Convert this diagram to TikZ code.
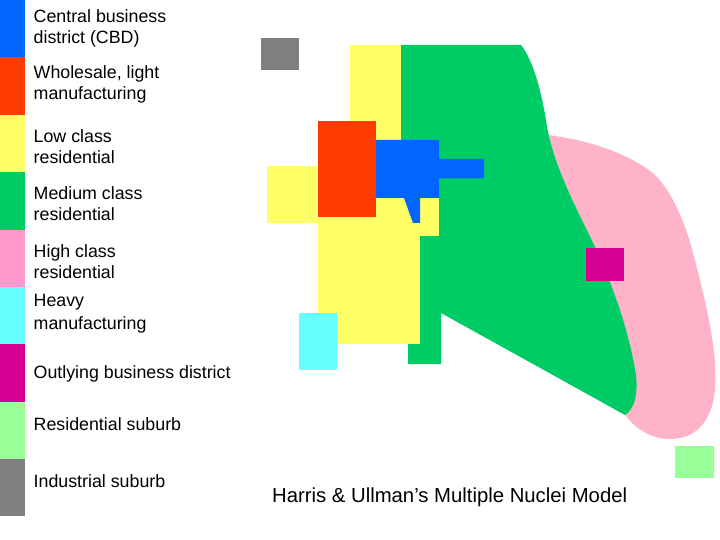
\documentclass[tikz,border=0pt]{standalone}
\usepackage{fontspec}
\setmainfont{Liberation Sans}
\definecolor{cblue}{HTML}{0066FF}
\definecolor{cred}{HTML}{FF3C00}
\definecolor{cyel}{HTML}{FFFF66}
\definecolor{cgrn}{HTML}{00CC66}
\definecolor{cpnk}{HTML}{FF99CC}
\definecolor{cpnkm}{HTML}{FFB3C8}
\definecolor{ccyn}{HTML}{66FFFF}
\definecolor{cmag}{HTML}{D60093}
\definecolor{clgr}{HTML}{99FF99}
\definecolor{cgry}{HTML}{808080}
\tikzset{legtext/.style={anchor=west,align=left,font=\fontsize{17.8pt}{21pt}\selectfont,text=black,inner sep=0pt}}
\begin{document}
\begin{tikzpicture}[x=1pt,y=-1pt]
\useasboundingbox (0,0) rectangle (720,540);
\fill[white] (0,0) rectangle (720,540);
% legend
\fill[cblue] (0,0) rectangle (25,57.5);
\fill[cred] (0,57.5) rectangle (25,115);
\fill[cyel] (0,115) rectangle (25,172.5);
\fill[cgrn] (0,172.5) rectangle (25,230);
\fill[cpnk] (0,230) rectangle (25,287);
\fill[ccyn] (0,287) rectangle (25,344);
\fill[cmag] (0,344) rectangle (25,401.5);
\fill[clgr] (0,401.5) rectangle (25,459);
\fill[cgry] (0,459) rectangle (25,516);
\node[legtext] (l1) at (33.5,28.5) {Central business\\district (CBD)};
\node[legtext] (l2) at (33.5,84.5) {Wholesale, light\\manufacturing};
\node[legtext] (l3) at (33.5,147) {Low class\\residential};
\node[legtext] (l4) at (33.5,204) {Medium class\\residential};
\node[legtext] (l5) at (33.5,261.5) {High class\\residential};
\node[legtext,font=\fontsize{17.8pt}{23pt}\selectfont] (l6) at (33.5,314) {Heavy\\manufacturing};
\node[legtext] (l7) at (33.5,373.5) {Outlying business district};
\node[legtext] (l8) at (33.5,424.5) {Residential suburb};
\node[legtext] (l9) at (33.5,481.5) {Industrial suburb};
\node[anchor=west,inner sep=0pt,font=\fontsize{20.3pt}{24pt}\selectfont] (title) at (272,497) {Harris \& Ullman’s Multiple Nuclei Model};
% pink
\fill[cpnkm] (548,135) .. controls (590,140) and (632,155) .. (655,175)
  .. controls (672,192) and (685,222) .. (693,253)
  .. controls (703,290) and (715,340) .. (715,370)
  .. controls (718,415) and (700,439) .. (670,439)
  .. controls (650,439) and (635,428) .. (625,415) -- (590,300) -- cycle;
% green
\fill[cgrn] (401,45) -- (521,45)
  .. controls (533,60) and (541,90) .. (546,120)
  .. controls (552,165) and (580,215) .. (595,247)
  .. controls (613,285) and (630,335) .. (636,375)
  .. controls (638,395) and (635,408) .. (625,415)
  -- (441,313) -- (441,364) -- (408,364) -- (408,340) -- (420,300) -- (420,230) -- (401,140) -- cycle;
% yellow
\fill[cyel] (350,45) rectangle (401,145);
\fill[cyel] (267,166) rectangle (320,223);
\fill[cyel] (318,190) rectangle (420,344);
\fill[cyel] (400,190) rectangle (439,236);
% red, blue
\fill[cred] (318,121) rectangle (376,217);
\fill[cblue] (376,140) -- (439,140) -- (439,159) -- (484,159) -- (484,178.5) -- (439,178.5) -- (439,198) -- (420,198) -- (420,223) -- (413,223) -- (404,198) -- (376,198) -- cycle;
% others
\fill[cgry] (261,38) rectangle (299,70);
\fill[cmag] (586,248) rectangle (624,281);
\fill[ccyn] (299,313) rectangle (337,370);
\fill[clgr] (675,446) rectangle (714,478);
\end{tikzpicture}
\end{document}
